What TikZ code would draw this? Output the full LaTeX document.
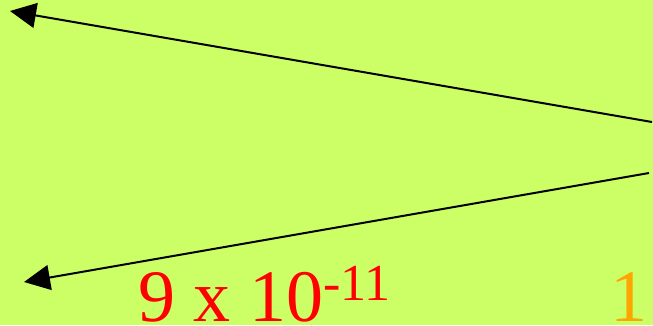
\documentclass[tikz,border=0pt]{standalone}
\usepackage{fontspec}
\setmainfont{Liberation Serif}
\usetikzlibrary{arrows.meta}
\definecolor{bg}{HTML}{CCFF66}
\definecolor{numred}{HTML}{FF0000}
\definecolor{numorange}{HTML}{FFA500}
\tikzset{
  conn/.style={line width=2pt, -{Triangle[length=26pt,width=25pt]}},
  bignum/.style={inner sep=0pt, anchor=base west, font=\fontsize{74}{74}\selectfont}
}
\begin{document}
\begin{tikzpicture}[x=1pt,y=-1pt]
\fill[bg] (0,0) rectangle (653,325);
\useasboundingbox (0,0) rectangle (653,325);
\coordinate (s1) at (652,122);
\coordinate (t1) at (10,11);
\coordinate (s2) at (649,173);
\coordinate (t2) at (24,282);
\draw[conn] (s1) -- (t1);
\draw[conn] (s2) -- (t2);
\node[bignum, text=numred] (val) at (138,321) {9 x 10\raisebox{21pt}{\fontsize{52}{52}\selectfont -11}};
\node[bignum, text=numorange] (one) at (610,321) {1};
\end{tikzpicture}
\end{document}
